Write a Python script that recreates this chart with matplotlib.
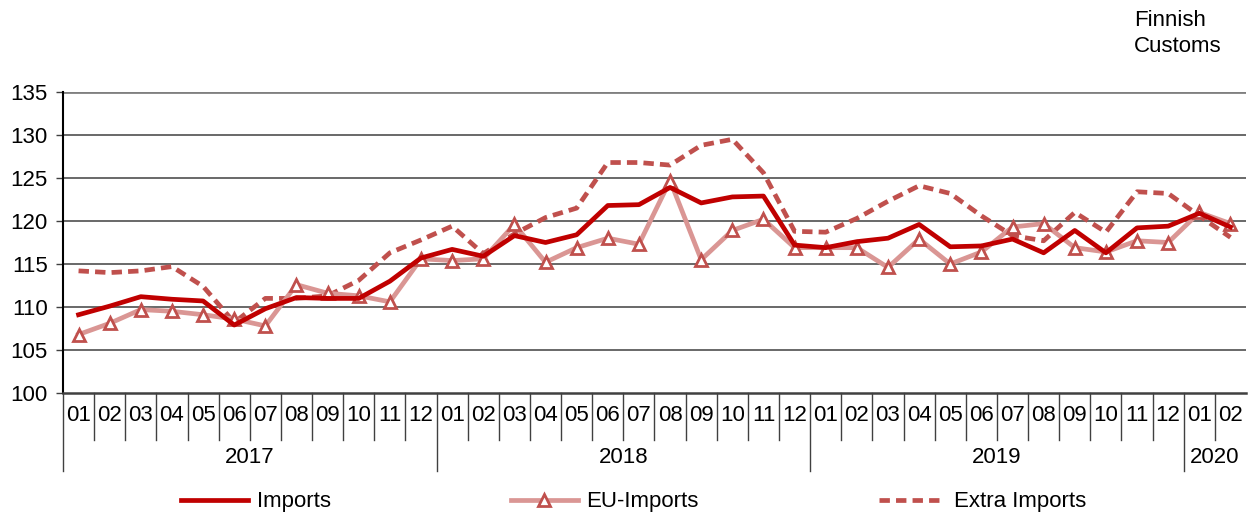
import matplotlib
matplotlib.use("Agg")
import matplotlib.pyplot as plt
import matplotlib.transforms as mtransforms

plt.rcParams['font.family'] = ['Liberation Sans', 'DejaVu Sans']

months = ["01", "02", "03", "04", "05", "06", "07", "08", "09", "10", "11", "12"] * 3 + ["01", "02"]
years = ["2017", "2018", "2019", "2020"]
year_counts = [12, 12, 12, 2]

imports = [109.1, 110.1, 111.2, 110.9, 110.7, 107.9, 109.8, 111.1, 111.0, 111.0, 113.0, 115.7,
           116.7, 115.9, 118.3, 117.5, 118.4, 121.8, 121.9, 123.9, 122.1, 122.8, 122.9, 117.2,
           116.9, 117.6, 118.0, 119.6, 117.0, 117.1, 117.9, 116.3, 118.9, 116.3, 119.2, 119.4,
           120.9, 119.3]
eu_imports = [106.8, 108.1, 109.7, 109.5, 109.1, 108.6, 107.8, 112.6, 111.6, 111.3, 110.6, 115.6,
              115.4, 115.6, 119.6, 115.2, 116.9, 118.0, 117.3, 124.7, 115.5, 118.9, 120.2, 116.9,
              116.9, 116.9, 114.6, 117.9, 115.0, 116.4, 119.3, 119.7, 116.9, 116.4, 117.7, 117.5,
              121.0, 119.7]
extra_imports = [114.2, 114.0, 114.2, 114.7, 112.4, 108.2, 111.0, 111.0, 111.3, 113.1, 116.3, 117.8,
                 119.4, 116.2, 118.5, 120.4, 121.5, 126.8, 126.8, 126.5, 128.8, 129.5, 125.6, 118.8,
                 118.7, 120.3, 122.3, 124.1, 123.2, 120.6, 118.3, 117.7, 121.0, 118.7, 123.4, 123.2,
                 120.6, 118.1]
yticks = [100, 105, 110, 115, 120, 125, 130, 135]

W, H = 1248, 513
fig = plt.figure(figsize=(W / 100, H / 100), dpi=100)
ax = fig.add_axes([63 / W, 1 - 393 / H, (1246 - 63) / W, (393 - 92) / H])

x = list(range(len(months)))
FS = 16

ax.plot(x, extra_imports, color="#C0504D", lw=3.4, ls=(0, (2.2, 1.3)), label="Extra Imports", zorder=3)
ax.plot(x, eu_imports, color="#DA9694", lw=3.4, marker="^", markersize=9, markerfacecolor="white",
        markeredgecolor="#C0504D", markeredgewidth=2, label="EU-Imports", zorder=4)
ax.plot(x, imports, color="#C00000", lw=3.4, label="Imports", zorder=5)

ax.set_xlim(-0.5, len(months) - 0.5)
ax.set_ylim(100, 135)
ax.set_yticks(yticks)
ax.set_yticklabels([str(v) for v in yticks], fontsize=FS)
ax.tick_params(axis="y", length=5, width=1, direction="out", pad=6, color="#404040")
ax.set_xticks([])
for v in yticks[1:-1]:
    ax.axhline(v, color="#404040", lw=1.1, zorder=1)
ax.axhline(135, color="#808080", lw=2.0, zorder=1)
for s in ["top", "right"]:
    ax.spines[s].set_visible(False)
ax.spines["left"].set_color("black")
ax.spines["left"].set_linewidth(1.5)
ax.spines["bottom"].set_color("#404040")
ax.spines["bottom"].set_linewidth(1.8)

trans = mtransforms.blended_transform_factory(ax.transData, ax.transAxes)
for i, m in enumerate(months):
    ax.text(i, -0.075, m, transform=trans, ha="center", va="center", fontsize=FS)

boundaries = [0]
for c in year_counts:
    boundaries.append(boundaries[-1] + c)
year_starts = set(boundaries[:-1])
for b in range(len(months)):
    y_end = -0.26 if b in year_starts else -0.155
    ax.plot([b - 0.5, b - 0.5], [0, y_end], transform=trans, color="#404040", lw=1.0, clip_on=False)

for yname, start, c in zip(years, boundaries[:-1], year_counts):
    ax.text(start + c / 2 - 0.5, -0.215, yname, transform=trans, ha="center", va="center", fontsize=FS)

fig.text(1134 / W, 1 - 21 / H, "Finnish", ha="left", va="center", fontsize=FS)
fig.text(1134 / W, 1 - 46 / H, "Customs", ha="left", va="center", fontsize=FS)

handles, labels = ax.get_legend_handles_labels()
order = [2, 1, 0]
fig.legend([handles[i] for i in order], [labels[i] for i in order], loc="center",
           bbox_to_anchor=(0.508, 1 - 502 / H), ncol=3, frameon=False, fontsize=FS,
           handlelength=3.0, columnspacing=8.1, handletextpad=0.4, borderaxespad=0)

fig.savefig("out.png", dpi=100)
